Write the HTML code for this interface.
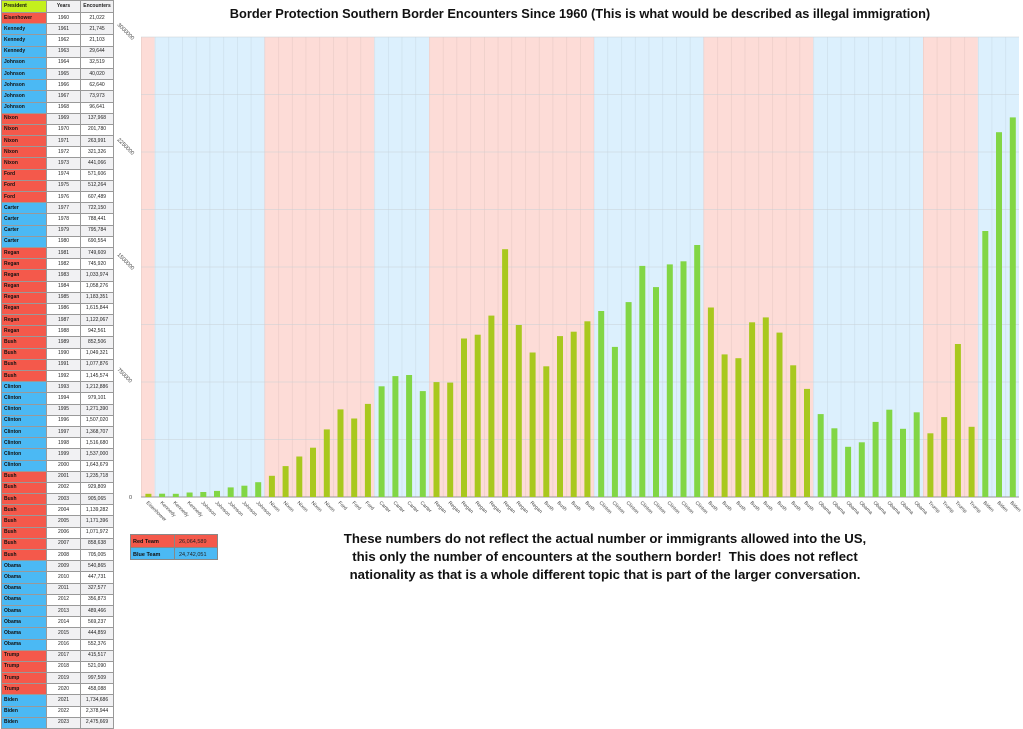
<!DOCTYPE html>
<html><head><meta charset="utf-8"><style>
body{margin:0;width:1023px;height:729px;background:#fff;position:relative;overflow:hidden;font-family:"Liberation Sans",Arial,sans-serif}
table{position:absolute;left:1px;top:0;border-collapse:collapse;font-size:5px}
td{height:10.19px;padding:0 2px;border:1px solid #999;text-align:center;color:#222;line-height:9px}
td:first-child{width:40px;text-align:left;font-weight:bold;color:#111}
td:nth-child(2){width:29px}td:nth-child(3){width:28px}
tr.h td{background:#c4f01e;font-weight:bold;height:11px}
.r td:first-child{background:#f4594b}.b td:first-child{background:#4bb9f4}
tr:nth-child(odd) td+td{background:#f1f1f3}
.t{position:absolute;font-weight:bold;color:#111;text-align:center;white-space:nowrap}
</style></head><body>
<table>
<tr class="h"><td>President</td><td>Years</td><td>Encounters</td></tr>
<tr class="r"><td>Eisenhower</td><td>1960</td><td>21,022</td></tr>
<tr class="b"><td>Kennedy</td><td>1961</td><td>21,745</td></tr>
<tr class="b"><td>Kennedy</td><td>1962</td><td>21,103</td></tr>
<tr class="b"><td>Kennedy</td><td>1963</td><td>29,644</td></tr>
<tr class="b"><td>Johnson</td><td>1964</td><td>32,519</td></tr>
<tr class="b"><td>Johnson</td><td>1965</td><td>40,020</td></tr>
<tr class="b"><td>Johnson</td><td>1966</td><td>62,640</td></tr>
<tr class="b"><td>Johnson</td><td>1967</td><td>73,973</td></tr>
<tr class="b"><td>Johnson</td><td>1968</td><td>96,641</td></tr>
<tr class="r"><td>Nixon</td><td>1969</td><td>137,968</td></tr>
<tr class="r"><td>Nixon</td><td>1970</td><td>201,780</td></tr>
<tr class="r"><td>Nixon</td><td>1971</td><td>263,991</td></tr>
<tr class="r"><td>Nixon</td><td>1972</td><td>321,326</td></tr>
<tr class="r"><td>Nixon</td><td>1973</td><td>441,066</td></tr>
<tr class="r"><td>Ford</td><td>1974</td><td>571,606</td></tr>
<tr class="r"><td>Ford</td><td>1975</td><td>512,264</td></tr>
<tr class="r"><td>Ford</td><td>1976</td><td>607,489</td></tr>
<tr class="b"><td>Carter</td><td>1977</td><td>722,150</td></tr>
<tr class="b"><td>Carter</td><td>1978</td><td>788,441</td></tr>
<tr class="b"><td>Carter</td><td>1979</td><td>795,784</td></tr>
<tr class="b"><td>Carter</td><td>1980</td><td>690,554</td></tr>
<tr class="r"><td>Regan</td><td>1981</td><td>749,609</td></tr>
<tr class="r"><td>Regan</td><td>1982</td><td>745,920</td></tr>
<tr class="r"><td>Regan</td><td>1983</td><td>1,033,974</td></tr>
<tr class="r"><td>Regan</td><td>1984</td><td>1,058,276</td></tr>
<tr class="r"><td>Regan</td><td>1985</td><td>1,183,351</td></tr>
<tr class="r"><td>Regan</td><td>1986</td><td>1,615,844</td></tr>
<tr class="r"><td>Regan</td><td>1987</td><td>1,122,067</td></tr>
<tr class="r"><td>Regan</td><td>1988</td><td>942,561</td></tr>
<tr class="r"><td>Bush</td><td>1989</td><td>852,506</td></tr>
<tr class="r"><td>Bush</td><td>1990</td><td>1,049,321</td></tr>
<tr class="r"><td>Bush</td><td>1991</td><td>1,077,876</td></tr>
<tr class="r"><td>Bush</td><td>1992</td><td>1,145,574</td></tr>
<tr class="b"><td>Clinton</td><td>1993</td><td>1,212,886</td></tr>
<tr class="b"><td>Clinton</td><td>1994</td><td>979,101</td></tr>
<tr class="b"><td>Clinton</td><td>1995</td><td>1,271,390</td></tr>
<tr class="b"><td>Clinton</td><td>1996</td><td>1,507,020</td></tr>
<tr class="b"><td>Clinton</td><td>1997</td><td>1,368,707</td></tr>
<tr class="b"><td>Clinton</td><td>1998</td><td>1,516,680</td></tr>
<tr class="b"><td>Clinton</td><td>1999</td><td>1,537,000</td></tr>
<tr class="b"><td>Clinton</td><td>2000</td><td>1,643,679</td></tr>
<tr class="r"><td>Bush</td><td>2001</td><td>1,235,718</td></tr>
<tr class="r"><td>Bush</td><td>2002</td><td>929,809</td></tr>
<tr class="r"><td>Bush</td><td>2003</td><td>905,065</td></tr>
<tr class="r"><td>Bush</td><td>2004</td><td>1,139,282</td></tr>
<tr class="r"><td>Bush</td><td>2005</td><td>1,171,396</td></tr>
<tr class="r"><td>Bush</td><td>2006</td><td>1,071,972</td></tr>
<tr class="r"><td>Bush</td><td>2007</td><td>858,638</td></tr>
<tr class="r"><td>Bush</td><td>2008</td><td>705,005</td></tr>
<tr class="b"><td>Obama</td><td>2009</td><td>540,865</td></tr>
<tr class="b"><td>Obama</td><td>2010</td><td>447,731</td></tr>
<tr class="b"><td>Obama</td><td>2011</td><td>327,577</td></tr>
<tr class="b"><td>Obama</td><td>2012</td><td>356,873</td></tr>
<tr class="b"><td>Obama</td><td>2013</td><td>489,466</td></tr>
<tr class="b"><td>Obama</td><td>2014</td><td>569,237</td></tr>
<tr class="b"><td>Obama</td><td>2015</td><td>444,859</td></tr>
<tr class="b"><td>Obama</td><td>2016</td><td>552,376</td></tr>
<tr class="r"><td>Trump</td><td>2017</td><td>415,517</td></tr>
<tr class="r"><td>Trump</td><td>2018</td><td>521,090</td></tr>
<tr class="r"><td>Trump</td><td>2019</td><td>997,509</td></tr>
<tr class="r"><td>Trump</td><td>2020</td><td>458,088</td></tr>
<tr class="b"><td>Biden</td><td>2021</td><td>1,734,686</td></tr>
<tr class="b"><td>Biden</td><td>2022</td><td>2,378,944</td></tr>
<tr class="b"><td>Biden</td><td>2023</td><td>2,475,669</td></tr>
</table>

<div class="t" style="left:180px;top:6px;width:800px;font-size:12.8px">Border Protection Southern Border Encounters Since 1960 (This is what would be described as illegal immigration)</div>

<svg style="position:absolute;left:0;top:0" width="1023" height="729">
<defs><pattern id="vl" x="141" y="0" width="13.72" height="10" patternUnits="userSpaceOnUse"><rect x="0" y="0" width="0.6" height="10" fill="#000" fill-opacity="0.08"/></pattern></defs>
<g>
<rect x="141" y="37" width="13.7" height="460" fill="#fddcd7"/>
<rect x="154.7" y="37" width="109.8" height="460" fill="#dcf0fd"/>
<rect x="264.5" y="37" width="109.8" height="460" fill="#fddcd7"/>
<rect x="374.3" y="37" width="54.8" height="460" fill="#dcf0fd"/>
<rect x="429.1" y="37" width="165" height="460" fill="#fddcd7"/>
<rect x="594.1" y="37" width="109.4" height="460" fill="#dcf0fd"/>
<rect x="703.5" y="37" width="109.8" height="460" fill="#fddcd7"/>
<rect x="813.3" y="37" width="109.7" height="460" fill="#dcf0fd"/>
<rect x="923" y="37" width="54.9" height="460" fill="#fddcd7"/>
<rect x="977.9" y="37" width="41.1" height="460" fill="#dcf0fd"/>
<rect x="141" y="37" width="878" height="460" fill="url(#vl)"/>
</g>
<g stroke="#c8cfd6" stroke-width="0.6">
<line x1="141" y1="37" x2="1019" y2="37"/><line x1="141" y1="94.5" x2="1019" y2="94.5"/><line x1="141" y1="152" x2="1019" y2="152"/><line x1="141" y1="209.5" x2="1019" y2="209.5"/><line x1="141" y1="267" x2="1019" y2="267"/><line x1="141" y1="324.5" x2="1019" y2="324.5"/><line x1="141" y1="382" x2="1019" y2="382"/><line x1="141" y1="439.5" x2="1019" y2="439.5"/>
</g>
<line x1="141" y1="497" x2="1019" y2="497" stroke="#999" stroke-width="1"/>
<g fill="#a9c81e">
<rect x="145.4" y="493.8" width="6" height="3.2"/>
<rect x="268.9" y="475.8" width="6" height="21.2"/><rect x="282.6" y="466.1" width="6" height="30.9"/><rect x="296.3" y="456.5" width="6" height="40.5"/><rect x="310" y="447.7" width="6" height="49.3"/><rect x="323.8" y="429.4" width="6" height="67.6"/><rect x="337.5" y="409.4" width="6" height="87.6"/><rect x="351.2" y="418.5" width="6" height="78.5"/><rect x="364.9" y="403.9" width="6" height="93.1"/>
<rect x="433.5" y="382.1" width="6" height="114.9"/><rect x="447.2" y="382.6" width="6" height="114.4"/><rect x="461" y="338.5" width="6" height="158.5"/><rect x="474.7" y="334.7" width="6" height="162.3"/><rect x="488.4" y="315.6" width="6" height="181.4"/><rect x="502.1" y="249.2" width="6" height="247.8"/><rect x="515.8" y="325" width="6" height="172"/><rect x="529.6" y="352.5" width="6" height="144.5"/><rect x="543.3" y="366.3" width="6" height="130.7"/><rect x="557" y="336.1" width="6" height="160.9"/><rect x="570.7" y="331.7" width="6" height="165.3"/><rect x="584.4" y="321.3" width="6" height="175.7"/>
<rect x="707.9" y="307.5" width="6" height="189.5"/><rect x="721.6" y="354.4" width="6" height="142.6"/><rect x="735.4" y="358.2" width="6" height="138.8"/><rect x="749.1" y="322.3" width="6" height="174.7"/><rect x="762.8" y="317.4" width="6" height="179.6"/><rect x="776.5" y="332.6" width="6" height="164.4"/><rect x="790.2" y="365.3" width="6" height="131.7"/><rect x="804" y="388.9" width="6" height="108.1"/>
<rect x="927.4" y="433.3" width="6" height="63.7"/><rect x="941.2" y="417.1" width="6" height="79.9"/><rect x="954.9" y="344" width="6" height="153"/><rect x="968.6" y="426.8" width="6" height="70.2"/>
</g>
<g fill="#82d645">
<rect x="159.1" y="493.7" width="6" height="3.3"/><rect x="172.8" y="493.8" width="6" height="3.2"/><rect x="186.6" y="492.5" width="6" height="4.5"/><rect x="200.3" y="492" width="6" height="5"/><rect x="214" y="490.9" width="6" height="6.1"/><rect x="227.7" y="487.4" width="6" height="9.6"/><rect x="241.4" y="485.7" width="6" height="11.3"/><rect x="255.2" y="482.2" width="6" height="14.8"/>
<rect x="378.6" y="386.3" width="6" height="110.7"/><rect x="392.4" y="376.1" width="6" height="120.9"/><rect x="406.1" y="375" width="6" height="122"/><rect x="419.8" y="391.1" width="6" height="105.9"/>
<rect x="598.2" y="311" width="6" height="186"/><rect x="611.9" y="346.9" width="6" height="150.1"/><rect x="625.6" y="302.1" width="6" height="194.9"/><rect x="639.3" y="265.9" width="6" height="231.1"/><rect x="653" y="287.1" width="6" height="209.9"/><rect x="666.8" y="264.4" width="6" height="232.6"/><rect x="680.5" y="261.3" width="6" height="235.7"/><rect x="694.2" y="245" width="6" height="252"/>
<rect x="817.7" y="414.1" width="6" height="82.9"/><rect x="831.4" y="428.3" width="6" height="68.7"/><rect x="845.1" y="446.8" width="6" height="50.2"/><rect x="858.8" y="442.3" width="6" height="54.7"/><rect x="872.6" y="421.9" width="6" height="75.1"/><rect x="886.3" y="409.7" width="6" height="87.3"/><rect x="900" y="428.8" width="6" height="68.2"/><rect x="913.7" y="412.3" width="6" height="84.7"/>
<rect x="982.3" y="231" width="6" height="266"/><rect x="996" y="132.2" width="6" height="364.8"/><rect x="1009.8" y="117.4" width="6" height="379.6"/>
</g>
<g font-size="5.5" fill="#444" font-family="Liberation Sans, sans-serif">
<text transform="translate(117,25) rotate(45)">3000000</text>
<text transform="translate(117,140) rotate(45)">2250000</text>
<text transform="translate(117,255) rotate(45)">1500000</text>
<text transform="translate(117,370) rotate(45)">750000</text>
<text x="129" y="499">0</text>
</g>
<g font-size="5" fill="#444" font-family="Liberation Sans, sans-serif">
<text transform="translate(146,503) rotate(45)">Eisenhower</text>
<text transform="translate(160,503) rotate(45)">Kennedy</text><text transform="translate(173,503) rotate(45)">Kennedy</text><text transform="translate(187,503) rotate(45)">Kennedy</text>
<text transform="translate(201,503) rotate(45)">Johnson</text><text transform="translate(215,503) rotate(45)">Johnson</text><text transform="translate(228,503) rotate(45)">Johnson</text><text transform="translate(242,503) rotate(45)">Johnson</text><text transform="translate(256,503) rotate(45)">Johnson</text>
<text transform="translate(269,503) rotate(45)">Nixon</text><text transform="translate(283,503) rotate(45)">Nixon</text><text transform="translate(297,503) rotate(45)">Nixon</text><text transform="translate(311,503) rotate(45)">Nixon</text><text transform="translate(324,503) rotate(45)">Nixon</text>
<text transform="translate(338,503) rotate(45)">Ford</text><text transform="translate(352,503) rotate(45)">Ford</text><text transform="translate(365,503) rotate(45)">Ford</text>
<text transform="translate(379,503) rotate(45)">Carter</text><text transform="translate(393,503) rotate(45)">Carter</text><text transform="translate(407,503) rotate(45)">Carter</text><text transform="translate(420,503) rotate(45)">Carter</text>
<text transform="translate(434,503) rotate(45)">Regan</text><text transform="translate(448,503) rotate(45)">Regan</text><text transform="translate(461,503) rotate(45)">Regan</text><text transform="translate(475,503) rotate(45)">Regan</text><text transform="translate(489,503) rotate(45)">Regan</text><text transform="translate(503,503) rotate(45)">Regan</text><text transform="translate(516,503) rotate(45)">Regan</text><text transform="translate(530,503) rotate(45)">Regan</text>
<text transform="translate(544,503) rotate(45)">Bush</text><text transform="translate(557,503) rotate(45)">Bush</text><text transform="translate(571,503) rotate(45)">Bush</text><text transform="translate(585,503) rotate(45)">Bush</text>
<text transform="translate(599,503) rotate(45)">Clinton</text><text transform="translate(612,503) rotate(45)">Clinton</text><text transform="translate(626,503) rotate(45)">Clinton</text><text transform="translate(640,503) rotate(45)">Clinton</text><text transform="translate(653,503) rotate(45)">Clinton</text><text transform="translate(667,503) rotate(45)">Clinton</text><text transform="translate(681,503) rotate(45)">Clinton</text><text transform="translate(695,503) rotate(45)">Clinton</text>
<text transform="translate(708,503) rotate(45)">Bush</text><text transform="translate(722,503) rotate(45)">Bush</text><text transform="translate(736,503) rotate(45)">Bush</text><text transform="translate(750,503) rotate(45)">Bush</text><text transform="translate(763,503) rotate(45)">Bush</text><text transform="translate(777,503) rotate(45)">Bush</text><text transform="translate(791,503) rotate(45)">Bush</text><text transform="translate(804,503) rotate(45)">Bush</text>
<text transform="translate(818,503) rotate(45)">Obama</text><text transform="translate(832,503) rotate(45)">Obama</text><text transform="translate(846,503) rotate(45)">Obama</text><text transform="translate(859,503) rotate(45)">Obama</text><text transform="translate(873,503) rotate(45)">Obama</text><text transform="translate(887,503) rotate(45)">Obama</text><text transform="translate(900,503) rotate(45)">Obama</text><text transform="translate(914,503) rotate(45)">Obama</text>
<text transform="translate(928,503) rotate(45)">Trump</text><text transform="translate(942,503) rotate(45)">Trump</text><text transform="translate(955,503) rotate(45)">Trump</text><text transform="translate(969,503) rotate(45)">Trump</text>
<text transform="translate(983,503) rotate(45)">Biden</text><text transform="translate(997,503) rotate(45)">Biden</text><text transform="translate(1010,503) rotate(45)">Biden</text>
</g>
<g font-family="Liberation Sans, sans-serif" font-size="5.5">
<rect x="130" y="534" width="88" height="26" fill="#888"/>
<rect x="131" y="535" width="43" height="12" fill="#f4594b"/><rect x="175" y="535" width="42" height="12" fill="#f4594b"/>
<rect x="131" y="548" width="43" height="11" fill="#4bb9f4"/><rect x="175" y="548" width="42" height="11" fill="#4bb9f4"/>
<text x="133" y="543" font-weight="bold" fill="#111">Red Team</text><text x="179" y="543" fill="#222">26,064,589</text>
<text x="133" y="556" font-weight="bold" fill="#111">Blue Team</text><text x="179" y="556" fill="#222">24,742,051</text>
</g>
</svg>
<div class="t" style="left:305px;top:530px;width:600px;font-size:13.2px;line-height:18px">These numbers do not reflect the actual number or immigrants allowed into the US,<br>this only the number of encounters at the southern border!&nbsp; This does not reflect<br>nationality as that is a whole different topic that is part of the larger conversation.</div>
</body></html>
